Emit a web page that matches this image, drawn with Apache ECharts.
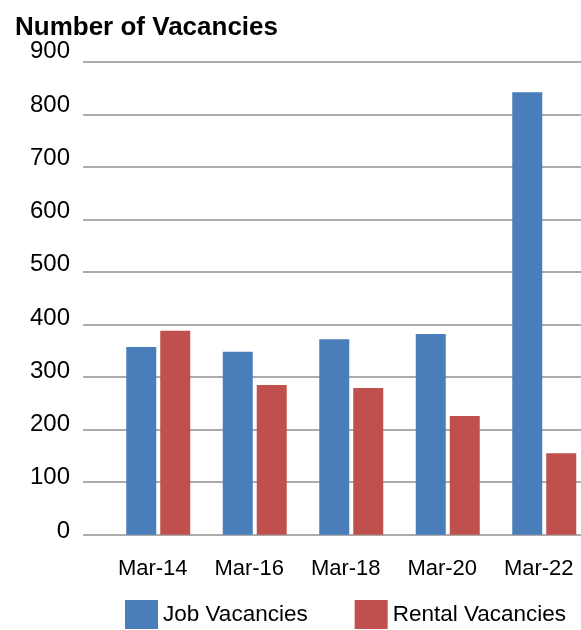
<!DOCTYPE html>
<html>
<head>
<meta charset="utf-8">
<script src="https://cdn.jsdelivr.net/npm/echarts@6/dist/echarts.min.js"></script>
<style>html,body{margin:0;padding:0;background:#fff}#c{width:581px;height:630px}</style>
</head>
<body>
<div id="c"></div>
<script>
const categories = ['Mar-14', 'Mar-16', 'Mar-18', 'Mar-20', 'Mar-22'];
const jobVacancies = [357, 348, 372, 382, 842];
const rentalVacancies = [388, 285, 279, 226, 155];
const seriesNames = ['Job Vacancies', 'Rental Vacancies'];
const titleText = 'Number of Vacancies';

const chart = echarts.init(document.getElementById('c'), null, {renderer: 'canvas'});
const font = 'Liberation Sans, Arial, sans-serif';
chart.setOption({
  animation: false,
  backgroundColor: '#fff',
  title: {
    text: titleText, left: 10, top: 10,
    textStyle: {fontFamily: font, fontSize: 26, fontWeight: 'bold', color: '#000'}
  },
  legend: {
    left: 125, top: 600, padding: 0, itemWidth: 33, itemHeight: 29, itemGap: 47,
    icon: 'rect',
    textStyle: {fontFamily: font, fontSize: 22.5, color: '#000'},
    data: seriesNames
  },
  grid: [
    {left: 83, right: 0, top: 61.7, height: 473, outerBoundsMode: 'none'},
    {left: 110, width: 482.5, top: 61.7, height: 473, outerBoundsMode: 'none'},
    {left: 83, right: 0, top: 51.7, height: 479.3, outerBoundsMode: 'none'}
  ],
  xAxis: [
    {gridIndex: 0, type: 'category', data: categories, show: false},
    {gridIndex: 1, type: 'category', data: categories,
     axisLine: {show: false}, axisTick: {show: false},
     axisLabel: {fontFamily: font, fontSize: 22, color: '#000', margin: 23, padding: [0, 11, 0, 0]}},
    {gridIndex: 2, type: 'category', data: categories, show: false}
  ],
  yAxis: [
    {gridIndex: 0, type: 'value', min: 0, max: 900, interval: 100,
     axisLine: {show: false}, axisTick: {show: false}, axisLabel: {show: false},
     splitLine: {lineStyle: {color: '#909090', width: 1.5}}},
    {gridIndex: 1, type: 'value', min: 0, max: 900, interval: 100, show: false},
    {gridIndex: 2, type: 'value', min: 0, max: 900, interval: 100,
     axisLine: {show: false}, axisTick: {show: false}, splitLine: {show: false},
     axisLabel: {fontFamily: font, fontSize: 24, color: '#000', margin: 13}}
  ],
  series: [
    {name: seriesNames[0], type: 'bar', xAxisIndex: 1, yAxisIndex: 1, data: jobVacancies,
     barWidth: 30, barGap: '13.3%', itemStyle: {color: '#4a7ebb'}},
    {name: seriesNames[1], type: 'bar', xAxisIndex: 1, yAxisIndex: 1, data: rentalVacancies,
     barWidth: 30, barGap: '13.3%', itemStyle: {color: '#c0504d'}}
  ]
});
</script>
</body>
</html>
